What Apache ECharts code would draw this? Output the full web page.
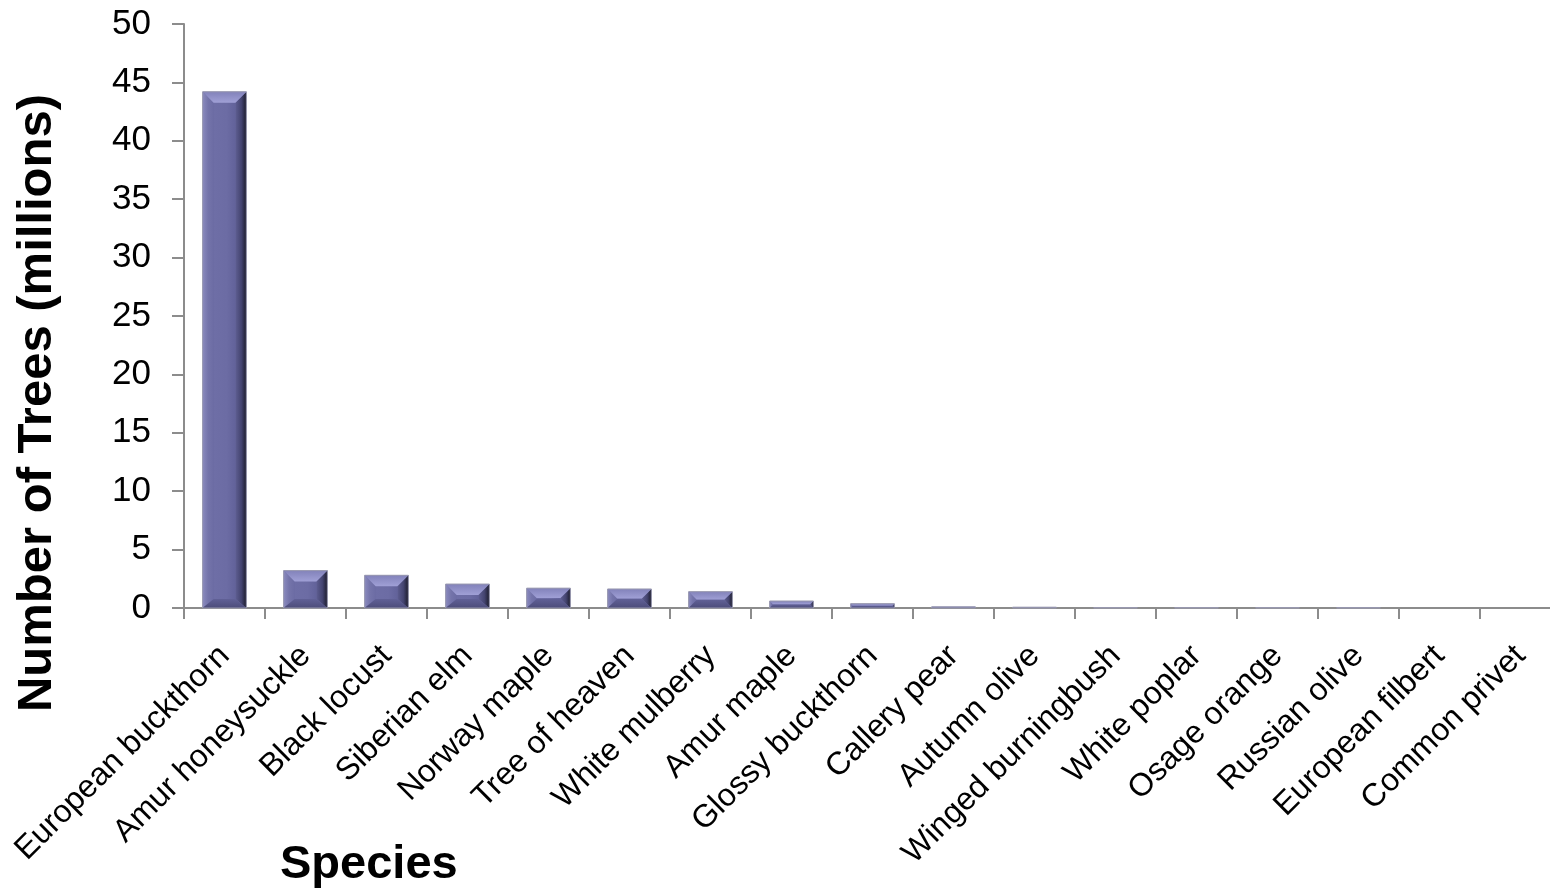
<!DOCTYPE html>
<html>
<head>
<meta charset="utf-8">
<script src="https://cdn.jsdelivr.net/npm/echarts@6/dist/echarts.min.js"></script>
<style>
  html, body { margin: 0; padding: 0; background: #ffffff; }
  #chart { width: 1550px; height: 888px; }
</style>
</head>
<body>
<div id="chart"></div>
<script>
// Invasive tree species, estimated number of trees (millions)
const species = [
  'European buckthorn', 'Amur honeysuckle', 'Black locust', 'Siberian elm',
  'Norway maple', 'Tree of heaven', 'White mulberry', 'Amur maple',
  'Glossy buckthorn', 'Callery pear', 'Autumn olive', 'Winged burningbush',
  'White poplar', 'Osage orange', 'Russian olive', 'European filbert',
  'Common privet'
];
const treesMillions = [
  44.2, 3.2, 2.8, 2.05,
  1.7, 1.63, 1.4, 0.6,
  0.37, 0.1, 0.07, 0.03,
  0.03, 0.03, 0.02, 0, 0
];
const yTicks = { min: 0, max: 50, interval: 5 };

const FONT = 'Liberation Sans, Arial, sans-serif';
const chart = echarts.init(document.getElementById('chart'));

// Bevelled column: front face plus four sloped edge faces
function renderBevelBar(params, api) {
  const idx = api.value(0);
  const val = api.value(1);
  const topPt = api.coord([idx, val]);
  const basePt = api.coord([idx, 0]);
  const bw = api.size([1, 0])[0] * 0.54;
  const l = topPt[0] - bw / 2, r = l + bw;
  const t = topPt[1], b = basePt[1];
  const h = b - t;
  if (h <= 0.2) return null;
  const bv = Math.min(11, h / 2, bw / 2);
  const bvB = Math.min(9, h / 2);
  const il = l + bv, ir = r - bv, it = t + bv, ib = b - bvB;
  const hGrad = (stops) => new echarts.graphic.LinearGradient(0, 0, 1, 0,
    stops.map(([o, c]) => ({ offset: o, color: c })));
  const vGrad = (stops) => new echarts.graphic.LinearGradient(0, 0, 0, 1,
    stops.map(([o, c]) => ({ offset: o, color: c })));
  const children = [
    { type: 'rect', shape: { x: l, y: t, width: bw, height: h },
      style: { fill: '#6b6ba3' } },
    // front face
    { type: 'rect', shape: { x: il, y: it, width: Math.max(0, ir - il), height: Math.max(0, ib - it) },
      style: { fill: hGrad([[0, '#6e6ea6'], [0.6, '#6c6ca4'], [1, '#62629a']]) } },
    // left edge
    { type: 'polygon', shape: { points: [[l, t], [il, it], [il, ib], [l, b]] },
      style: { fill: hGrad([[0, '#8a8abe'], [0.5, '#7474aa'], [1, '#6c6ca4']]) } },
    // right edge
    { type: 'polygon', shape: { points: [[r, t], [ir, it], [ir, ib], [r, b]] },
      style: { fill: hGrad([[0, '#5e5e92'], [0.55, '#444470'], [1, '#1c1c2c']]) } },
    // top edge
    { type: 'polygon', shape: { points: [[l, t], [r, t], [ir, it], [il, it]] },
      style: { fill: vGrad([[0, '#8282ba'], [1, '#a0a0d6']]) } },
    // bottom edge
    { type: 'polygon', shape: { points: [[l, b], [il, ib], [ir, ib], [r, b]] },
      style: { fill: vGrad([[0, '#606096'], [1, '#4c4c7a']]) } },
    // outline
    { type: 'rect', shape: { x: l, y: t, width: bw, height: h },
      style: { fill: null, stroke: '#9a9ab0', lineWidth: 1 } }
  ];
  return { type: 'group', children };
}

chart.setOption({
  animation: false,
  backgroundColor: '#ffffff',
  grid: {
    left: 184, width: 1377, top: 24, bottom: 280,
    containLabel: false, outerBoundsMode: 'none'
  },
  xAxis: {
    type: 'category',
    data: species,
    boundaryGap: true,
    axisLine: { lineStyle: { color: '#8c8c8c', width: 2 } },
    axisTick: { show: true, length: 11, alignWithLabel: false, lineStyle: { color: '#8c8c8c', width: 2 } },
    axisLabel: {
      interval: 0, rotate: 45, margin: 43,
      fontFamily: FONT, fontSize: 32, color: '#000000'
    },
    splitLine: { show: false }
  },
  yAxis: {
    type: 'value',
    min: yTicks.min, max: yTicks.max, interval: yTicks.interval,
    axisLine: { show: true, lineStyle: { color: '#8c8c8c', width: 2 } },
    axisTick: { show: true, length: 12, lineStyle: { color: '#8c8c8c', width: 2 } },
    axisLabel: { margin: 33, fontFamily: FONT, fontSize: 35, color: '#000000' },
    splitLine: { show: false }
  },
  graphic: [
    {
      type: 'text', x: 37, y: 403, rotation: Math.PI / 2,
      style: {
        text: 'Number of Trees (millions)', fontFamily: FONT, fontSize: 49,
        fontWeight: 'bold', fill: '#000000', align: 'center', verticalAlign: 'middle'
      }
    },
    {
      type: 'text', left: 280, top: 842,
      style: { text: 'Species', fontFamily: FONT, fontSize: 47, fontWeight: 'bold', fill: '#000000' }
    }
  ],
  series: [{
    type: 'custom',
    renderItem: renderBevelBar,
    encode: { x: 0, y: 1 },
    clip: false,
    data: treesMillions.map((v, i) => [i, v])
  }]
});
</script>
</body>
</html>
